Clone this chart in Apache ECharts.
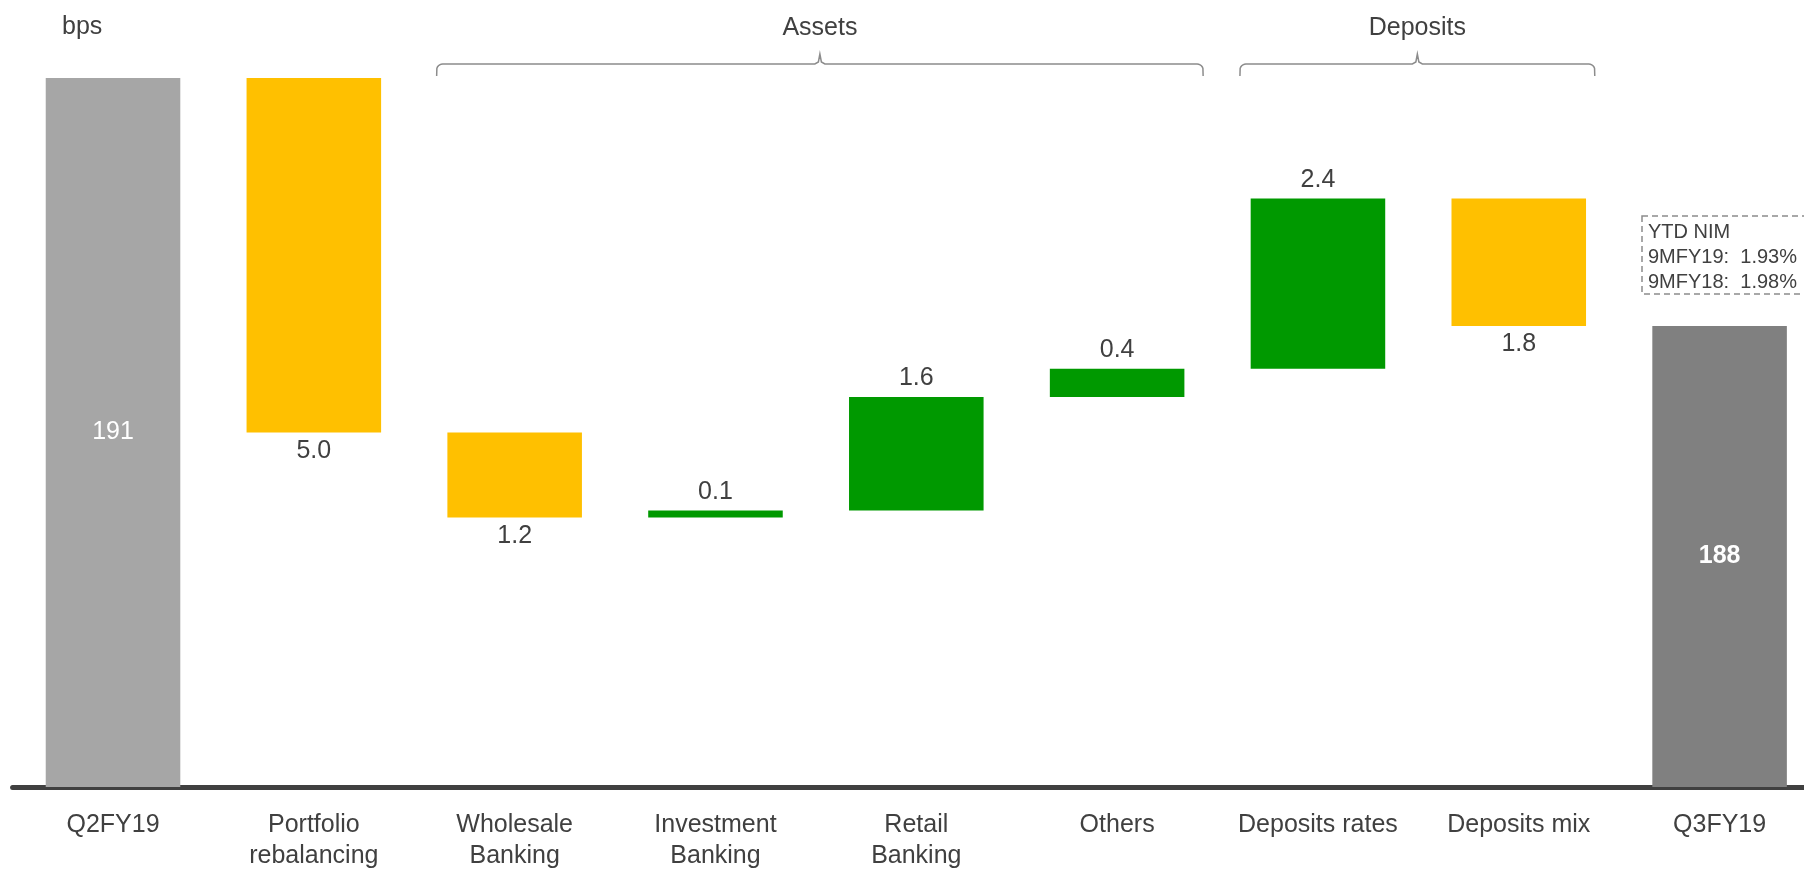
<!DOCTYPE html>
<html>
<head>
<meta charset="utf-8">
<script src="https://cdn.jsdelivr.net/npm/echarts@6/dist/echarts.min.js"></script>
<style>
  html, body { margin: 0; padding: 0; background: #fff; overflow: hidden; }
  /* plot runs slightly past the right edge, as in the source slide */
  #chart { width: 1820px; height: 872px; }
</style>
</head>
<body>
<div id="chart"></div>
<script>
const categories = ['Q2FY19', 'Portfolio\nrebalancing', 'Wholesale\nBanking', 'Investment\nBanking',
  'Retail\nBanking', 'Others', 'Deposits rates', 'Deposits mix', 'Q3FY19'];
const startValue = 191;
const deltas = [-5.0, -1.2, 0.1, 1.6, 0.4, 2.4, -1.8];
const groups = [
  { name: 'Assets', from: 2, to: 5 },
  { name: 'Deposits', from: 6, to: 7 }
];
const ytdLines = ['YTD NIM', '9MFY19:  1.93%', '9MFY18:  1.98%'];

const FONT = "'Liberation Sans', Arial, sans-serif";
const TEXT = '#404040';
const UP = '#009900', DOWN = '#ffc000';

// running totals -> transparent base + visible part
let base = [0], bars = [];
bars.push({
  value: startValue,
  itemStyle: { color: '#a6a6a6' },
  label: { show: true, position: 'inside', color: '#fff', formatter: String(startValue) }
});
let level = startValue;
deltas.forEach(d => {
  let next = Math.round((level + d) * 10) / 10;
  base.push(Math.min(level, next));
  bars.push({
    value: Math.abs(d),
    itemStyle: { color: d >= 0 ? UP : DOWN },
    label: { show: true, position: d >= 0 ? 'top' : 'bottom', distance: 6, color: TEXT, formatter: Math.abs(d).toFixed(1) }
  });
  level = next;
});
base.push(0);
bars.push({
  value: level,
  itemStyle: { color: '#808080' },
  label: { show: true, position: 'inside', color: '#fff', fontWeight: 'bold', formatter: String(Math.round(level)) }
});

let chart = echarts.init(document.getElementById('chart'));
let option = {
  animation: false,
  textStyle: { fontFamily: FONT },
  grid: { left: 12.6, right: 0, top: 7, bottom: 72 },
  xAxis: {
    type: 'category',
    data: categories,
    axisLine: { lineStyle: { color: '#404040', width: 5 } },
    axisTick: { show: false },
    axisLabel: { interval: 0, margin: 23, color: TEXT, fontSize: 25, lineHeight: 31, fontFamily: FONT }
  },
  yAxis: {
    type: 'value',
    min: 181,
    max: 192,
    show: false,
    splitLine: { show: false }
  },
  series: [
    {
      name: 'base',
      type: 'bar',
      stack: 'w',
      silent: true,
      itemStyle: { color: 'transparent' },
      data: base,
      barWidth: '67%'
    },
    {
      name: 'value',
      type: 'bar',
      stack: 'w',
      barWidth: '67%',
      label: { fontSize: 25, fontFamily: FONT },
      data: bars
    }
  ]
};
chart.setOption(option);

// brackets and captions placed from category positions
function bracket(x0, x1, cx) {
  let yLine = 64, yEnd = 76, yTip = 54, r = 6;
  let pts = [[x0, yEnd]];
  for (let a = 1; a <= 6; a++) {
    let t = a / 6 * Math.PI / 2;
    pts.push([x0 + r - r * Math.cos(t), yLine + r - r * Math.sin(t)]);
  }
  pts.push([cx - 5, yLine]);
  pts.push([cx - 1.5, yLine - 2]);
  pts.push([cx, yTip]);
  pts.push([cx + 1.5, yLine - 2]);
  pts.push([cx + 5, yLine]);
  for (let a = 0; a <= 5; a++) {
    let t = a / 6 * Math.PI / 2;
    pts.push([x1 - r + r * Math.sin(t), yLine + r - r * Math.cos(t)]);
  }
  pts.push([x1, yEnd]);
  return pts;
}

let graphics = [{
  type: 'text', left: 62, top: 15,
  style: { text: 'bps', fill: TEXT, font: '25px ' + FONT }
}];
groups.forEach(g => {
  let a = chart.convertToPixel({ xAxisIndex: 0 }, g.from);
  let b = chart.convertToPixel({ xAxisIndex: 0 }, g.to);
  let x0 = a - 78, x1 = b + (g.to - g.from > 1 ? 86 : 76), cx = (x0 + x1) / 2;
  graphics.push({
    type: 'polyline',
    shape: { points: bracket(x0, x1, cx) },
    style: { stroke: '#8c8c8c', lineWidth: 1.5, fill: null }
  });
  graphics.push({
    type: 'text', x: cx, y: 28,
    style: { text: g.name, fill: TEXT, font: '25px ' + FONT, textAlign: 'center', textVerticalAlign: 'middle' }
  });
});
graphics.push({
  type: 'rect',
  shape: { x: 1642, y: 216, width: 200, height: 78 },
  style: { fill: null, stroke: '#8c8c8c', lineWidth: 1.5, lineDash: [6, 4] }
});
graphics.push({
  type: 'text', x: 1648, y: 220,
  style: { text: ytdLines.join('\n'), fill: TEXT, font: '20px ' + FONT, lineHeight: 25 }
});
chart.setOption({ graphic: graphics });
</script>
</body>
</html>
